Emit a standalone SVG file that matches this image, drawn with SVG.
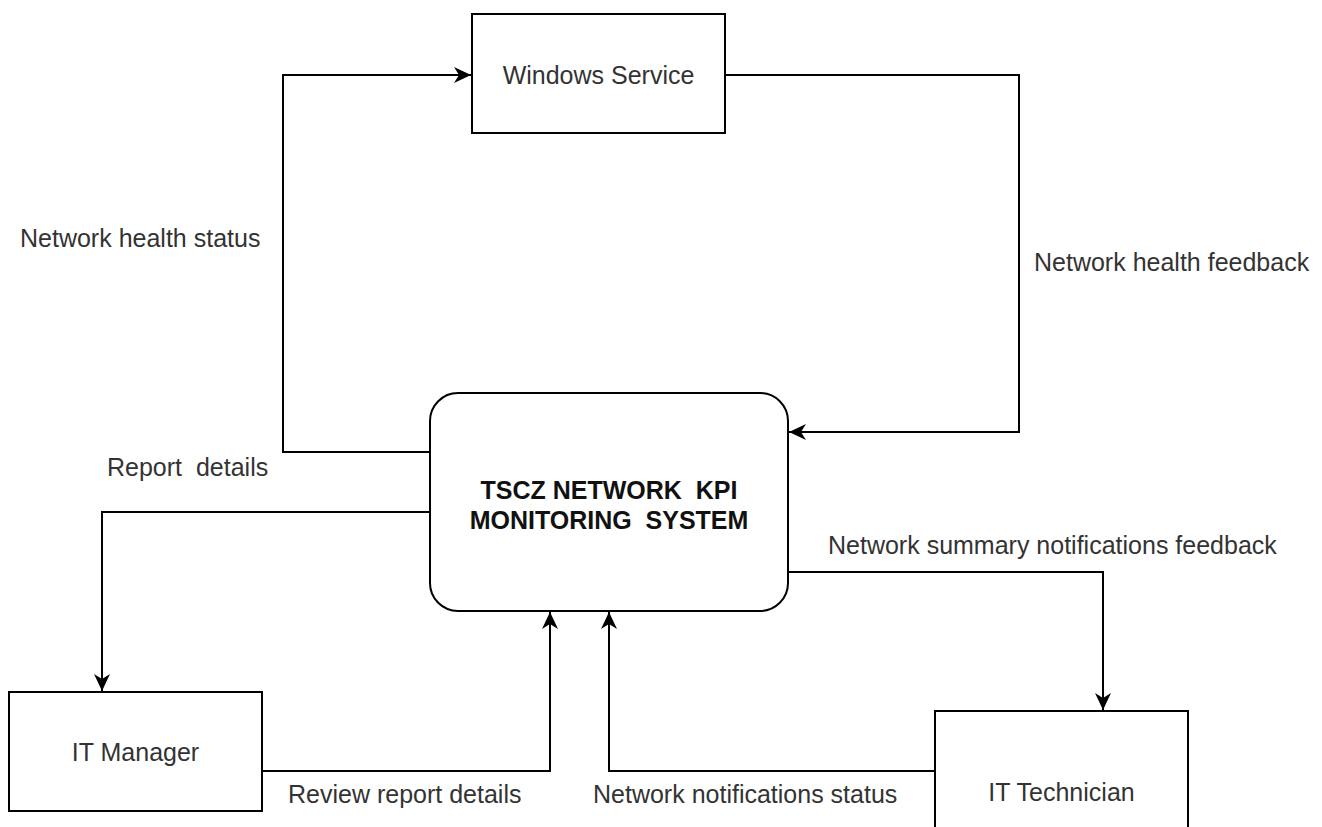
<svg xmlns="http://www.w3.org/2000/svg" width="1322" height="827" viewBox="0 0 1322 827">
<style>
.box{fill:#fff;stroke:#000;stroke-width:2}
.edge{fill:none;stroke:#000;stroke-width:2;marker-end:url(#arr)}
.t{font-family:"Liberation Sans",Arial,sans-serif;font-size:25px;fill:#333;white-space:pre}
.c{text-anchor:middle}
.b{font-weight:bold;fill:#111}
</style>
<defs>
<marker id="arr" markerUnits="userSpaceOnUse" viewBox="-18 -9 19 18" refX="0" refY="0" markerWidth="19" markerHeight="18" orient="auto">
<path d="M0,0 L-17,-8 L-12,0 L-17,8 Z" fill="#000"/>
</marker>
</defs>
<rect width="1322" height="827" fill="#fff"/>
<g id="connectors">
<path class="edge" d="M430,452 H283 V75 H471"/>
<path class="edge" d="M725,75 H1019 V432 H789"/>
<path class="edge" d="M430,512 H102 V691"/>
<path class="edge" d="M262,771 H550 V612"/>
<path class="edge" d="M935,771 H609 V612"/>
<path class="edge" d="M788,572 H1103 V710"/>
<text class="t" x="20" y="247">Network health status</text>
<text class="t" x="1034" y="271">Network health feedback</text>
<text class="t" x="107" y="476">Report  details</text>
<text class="t" x="828" y="554">Network summary notifications feedback</text>
<text class="t" x="288" y="803">Review report details</text>
<text class="t" x="593" y="803">Network notifications status</text>
</g>
<g id="windows-service">
<rect class="box" x="472" y="14" width="253" height="119"/>
<text class="t c" x="598.5" y="84">Windows Service</text>
</g>
<g id="tscz-system">
<rect class="box" x="430" y="393" width="358" height="218" rx="28" ry="28"/>
<text class="t c b" x="609" y="499">TSCZ NETWORK  KPI</text>
<text class="t c b" x="609" y="529">MONITORING  SYSTEM</text>
</g>
<g id="it-manager">
<rect class="box" x="9" y="692" width="253" height="119"/>
<text class="t c" x="135.5" y="761">IT Manager</text>
</g>
<g id="it-technician">
<rect class="box" x="935" y="711" width="253" height="162"/>
<text class="t c" x="1061.5" y="801">IT Technician</text>
</g>
</svg>
